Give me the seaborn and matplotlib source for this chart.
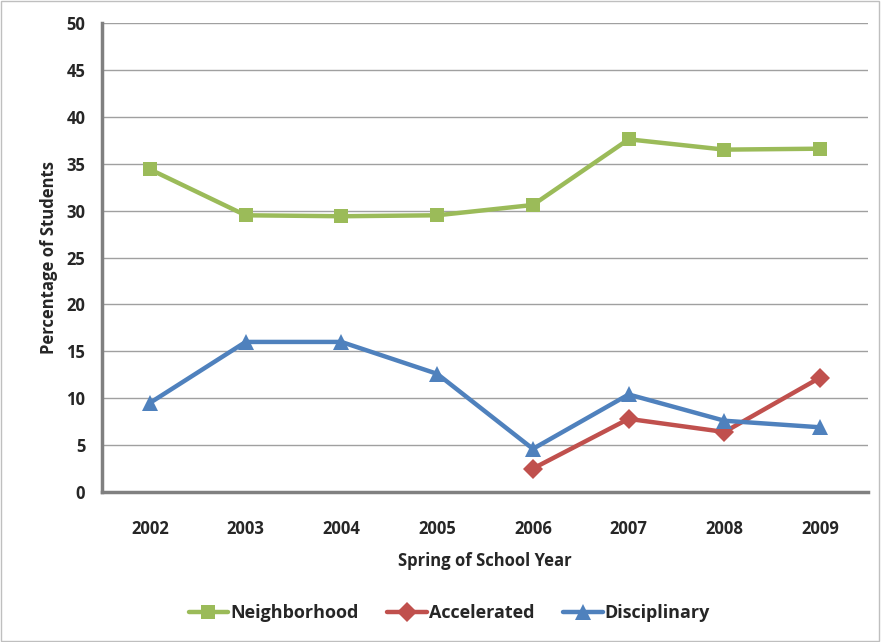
import numpy as np
import pandas as pd
import seaborn as sns
from matplotlib import pyplot as plt
from matplotlib.patches import Rectangle

years = [2002, 2003, 2004, 2005, 2006, 2007, 2008, 2009]
neighborhood = [34.4, 29.5, 29.4, 29.5, 30.6, 37.6, 36.5, 36.6]
accelerated = [np.nan, np.nan, np.nan, np.nan, 2.5, 7.8, 6.4, 12.2]
disciplinary = [9.5, 16.0, 16.0, 12.6, 4.6, 10.4, 7.6, 6.9]

series_names = ["Neighborhood", "Accelerated", "Disciplinary"]
colors = ["#9BBB59", "#C0504D", "#4F81BD"]
markers = ["s", "D", "^"]

df = pd.DataFrame({"year": years, "Neighborhood": neighborhood,
                   "Accelerated": accelerated, "Disciplinary": disciplinary})
long_df = df.melt(id_vars="year", var_name="series", value_name="pct").dropna()

sns.set_style("white")
plt.rcParams['font.family'] = ['Open Sans', 'DejaVu Sans']
plt.rcParams['font.weight'] = 'bold'

fig = plt.figure(figsize=(8.81, 6.42), dpi=100)
ax = fig.add_axes([0.1158, 0.2336, 0.8695, 0.7306])

sns.lineplot(data=long_df, x="year", y="pct", hue="series", style="series",
             hue_order=series_names, style_order=series_names,
             palette=colors, markers=markers, dashes=False,
             linewidth=3.2, markersize=10, markeredgewidth=0, ax=ax)
for line in ax.lines:
    if line.get_marker() == "^":
        line.set_markersize(12)

ax.set_xlim(2001.5, 2009.5)
ax.set_ylim(0, 50)
ax.set_yticks(range(0, 51, 5))
ax.set_xticks(years)
ax.set_xticks(np.arange(2001.5, 2010, 1), minor=True)
ax.tick_params(axis="x", which="major", length=0, pad=20, labelsize=12)
ax.tick_params(axis="x", which="minor", length=6, width=1.5, color="#808080")
ax.tick_params(axis="y", length=6, width=1.5, color="#808080", labelsize=12, pad=6)
ax.grid(axis="y", color="#A0A0A0", linewidth=1)
ax.set_axisbelow(True)

for side in ["top", "right"]:
    ax.spines[side].set_visible(False)
for side in ["left", "bottom"]:
    ax.spines[side].set_color("#808080")
    ax.spines[side].set_linewidth(2.5)

ax.set_xlabel("Spring of School Year", fontsize=12, fontweight="bold", labelpad=10)
ax.set_ylabel("Percentage of Students", fontsize=12, fontweight="bold", labelpad=6)

handles, labels = ax.get_legend_handles_labels()
ax.legend_.remove()
fig.legend(handles, labels, loc="center", bbox_to_anchor=(0.51, 0.045), ncol=3,
           frameon=False, handlelength=2.2, handletextpad=0.1,
           columnspacing=1.6, prop={"weight": "bold", "size": 13})

fig.add_artist(Rectangle((0.001, 0.001), 0.997, 0.997, transform=fig.transFigure,
                         fill=False, edgecolor="#BFBFBF", linewidth=1))

fig.savefig("out.png", dpi=100)
